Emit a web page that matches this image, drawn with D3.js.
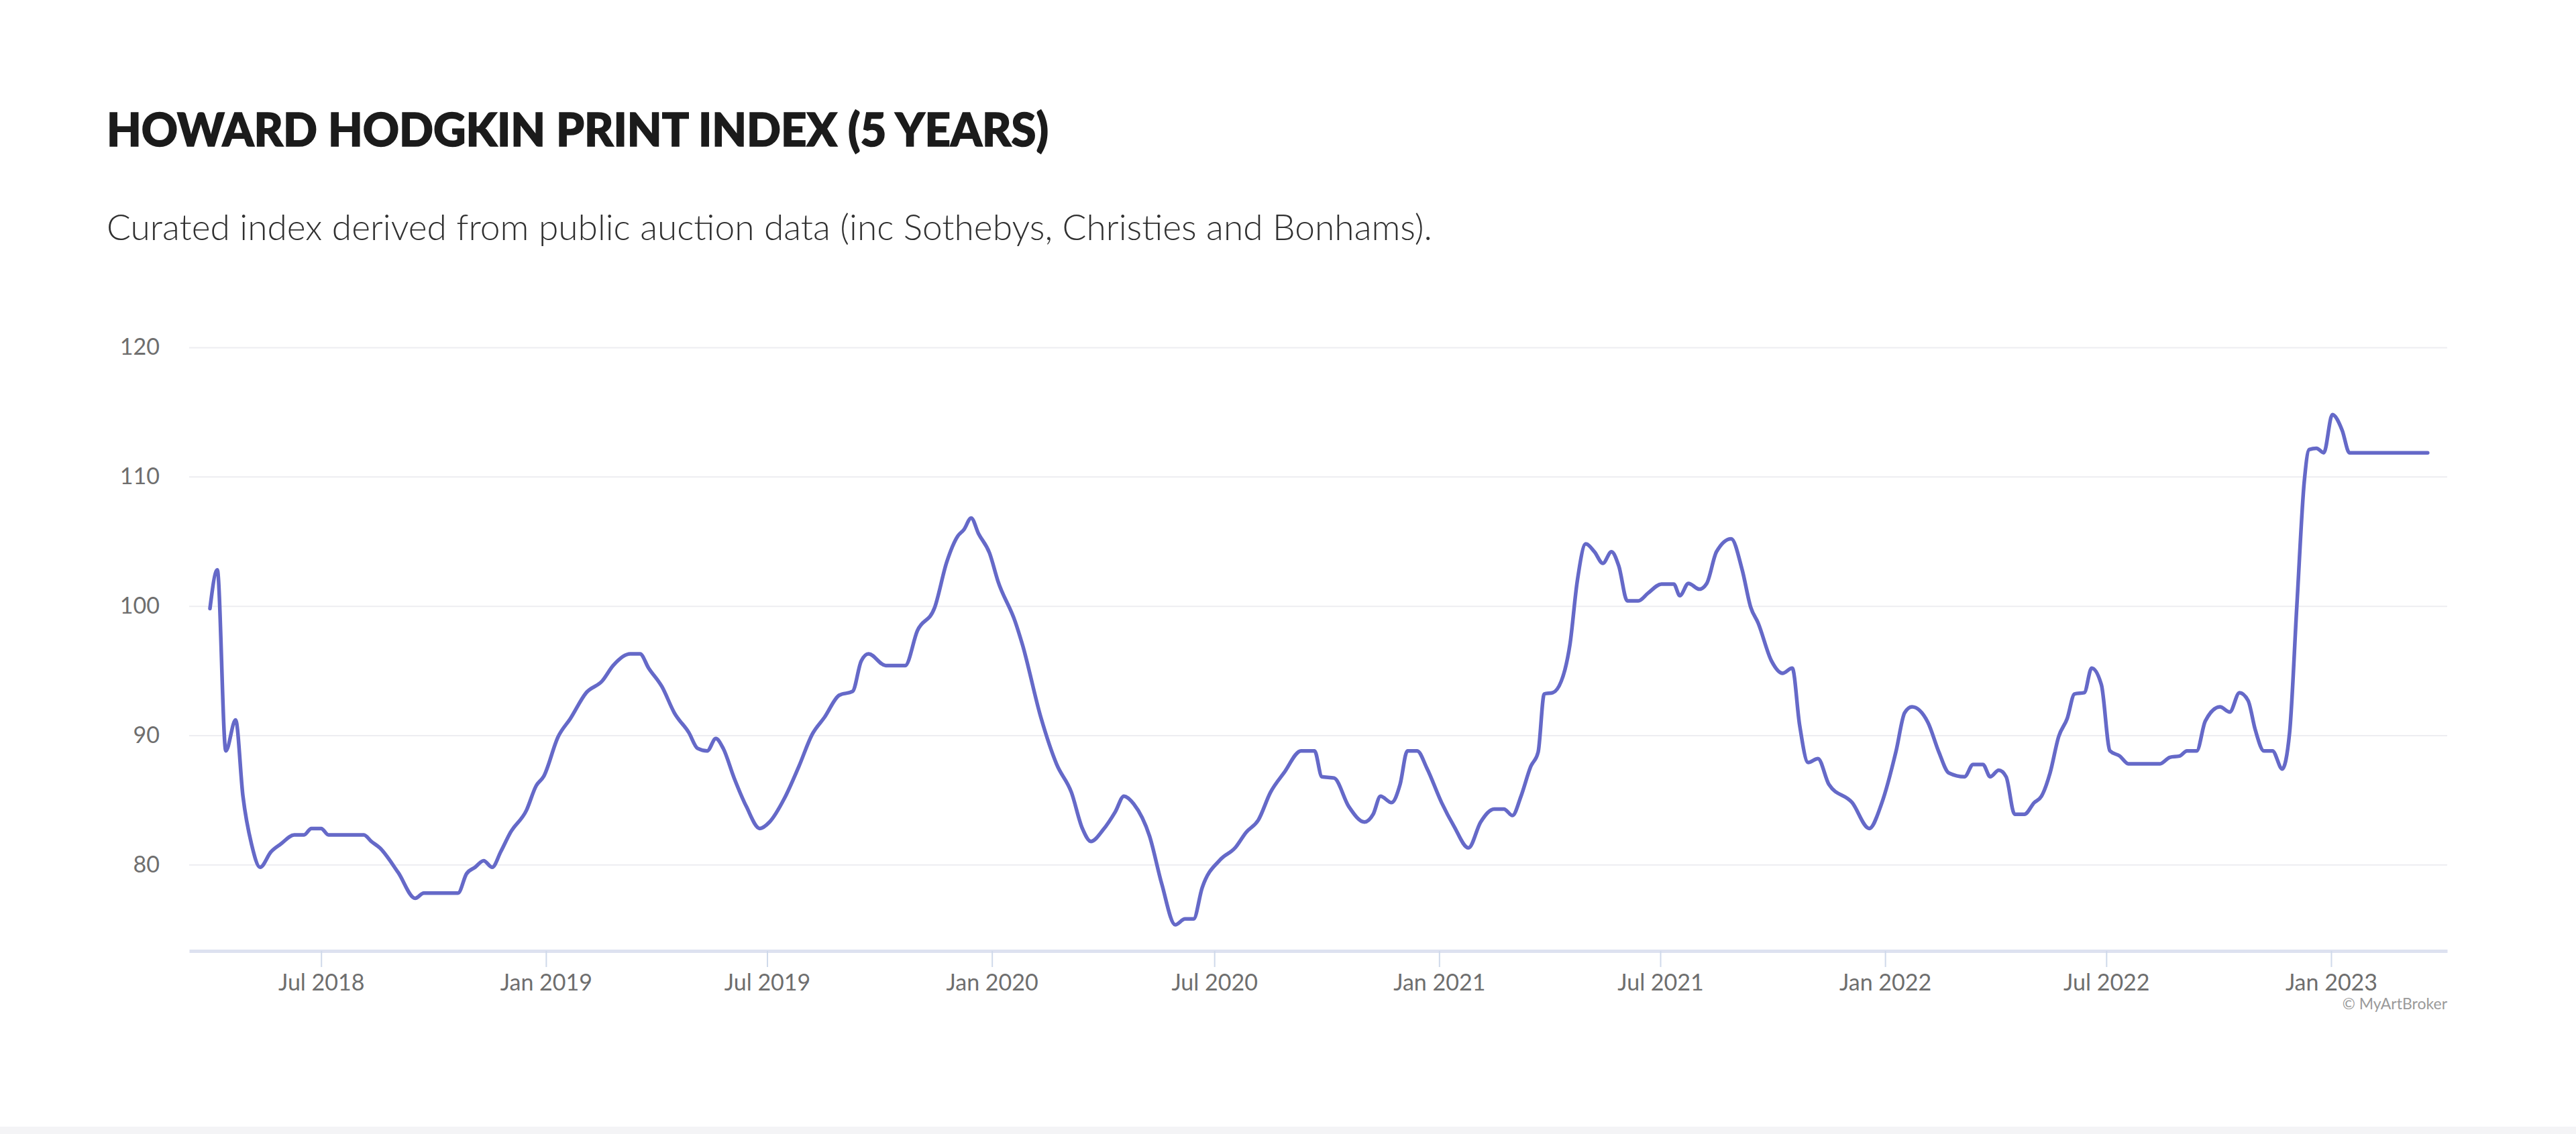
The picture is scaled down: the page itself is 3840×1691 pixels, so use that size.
<!DOCTYPE html>
<html>
<head>
<meta charset="utf-8">
<script src="https://cdn.jsdelivr.net/npm/d3@7"></script>
<style>
  html, body { margin: 0; padding: 0; background: #ffffff; }
  svg { display: block; }
</style>
</head>
<body>
<svg id="chart" width="3840" height="1691"></svg>
<script>
// ---- DATA ----
const titleText = "HOWARD HODGKIN PRINT INDEX (5 YEARS)";
const subtitleText = "Curated index derived from public auction data (inc Sothebys, Christies and Bonhams).";
const creditText = "© MyArtBroker";

const yTicks = [80, 90, 100, 110, 120];
const xTickDates = ["2018-07-01", "2019-01-01", "2019-07-01", "2020-01-01", "2020-07-01",
                    "2021-01-01", "2021-07-01", "2022-01-01", "2022-07-01", "2023-01-01"];

const dates = [
  "2018-04-01","2018-04-07","2018-04-14","2018-04-22","2018-04-28","2018-05-05","2018-05-12","2018-05-21",
  "2018-05-29","2018-06-09","2018-06-17","2018-06-23","2018-07-01","2018-07-07","2018-08-05","2018-08-11",
  "2018-08-18","2018-09-02","2018-09-16","2018-09-23","2018-10-21","2018-10-28","2018-11-04","2018-11-11",
  "2018-11-18","2018-11-25","2018-12-03","2018-12-16","2018-12-24","2018-12-30","2019-01-11","2019-01-21",
  "2019-02-03","2019-02-16","2019-02-25","2019-03-11","2019-03-19","2019-03-26","2019-04-06","2019-04-16",
  "2019-04-28","2019-05-05","2019-05-13","2019-05-20","2019-05-26","2019-06-04","2019-06-14","2019-06-25",
  "2019-07-03","2019-07-15","2019-07-27","2019-08-07","2019-08-17","2019-08-29","2019-09-09","2019-09-16",
  "2019-09-22","2019-10-06","2019-10-22","2019-11-01","2019-11-15","2019-11-25","2019-12-04","2019-12-09",
  "2019-12-15","2019-12-21","2019-12-30","2020-01-06","2020-01-20","2020-01-26","2020-02-10","2020-02-23",
  "2020-03-06","2020-03-15","2020-03-22","2020-04-01","2020-04-11","2020-04-18","2020-04-26","2020-05-09",
  "2020-05-19","2020-05-30","2020-06-07","2020-06-14","2020-06-21","2020-07-06","2020-07-18","2020-07-27",
  "2020-08-06","2020-08-16","2020-08-27","2020-09-10","2020-09-21","2020-09-27","2020-10-07","2020-10-19",
  "2020-11-01","2020-11-08","2020-11-14","2020-11-23","2020-11-30","2020-12-06","2020-12-14","2020-12-22",
  "2021-01-03","2021-01-13","2021-01-25","2021-02-04","2021-02-15","2021-02-23","2021-03-02","2021-03-09",
  "2021-03-17","2021-03-23","2021-03-28","2021-04-04","2021-04-14","2021-04-18","2021-04-24","2021-05-01",
  "2021-05-08","2021-05-15","2021-05-22","2021-05-28","2021-06-04","2021-06-13","2021-06-21","2021-07-02",
  "2021-07-12","2021-07-17","2021-07-24","2021-08-02","2021-08-08","2021-08-16","2021-08-28","2021-09-06",
  "2021-09-13","2021-09-19","2021-09-30","2021-10-09","2021-10-17","2021-10-23","2021-10-30","2021-11-07",
  "2021-11-16","2021-12-05","2021-12-19","2021-12-29","2022-01-10","2022-01-17","2022-01-23","2022-02-05",
  "2022-02-14","2022-02-22","2022-03-07","2022-03-14","2022-03-22","2022-03-28","2022-04-04","2022-04-10",
  "2022-04-17","2022-04-25","2022-05-03","2022-05-09","2022-05-16","2022-05-23","2022-05-30","2022-06-05",
  "2022-06-13","2022-06-19","2022-06-27","2022-07-04","2022-07-12","2022-07-19","2022-08-14","2022-08-22",
  "2022-08-30","2022-09-05","2022-09-13","2022-09-20","2022-10-02","2022-10-10","2022-10-18","2022-10-25",
  "2022-10-31","2022-11-07","2022-11-14","2022-11-22","2022-11-28","2022-12-04","2022-12-10","2022-12-14",
  "2022-12-20","2022-12-26","2023-01-02","2023-01-10","2023-01-16","2023-03-21"
];

const values = [
  99.8,102.8,88.8,91.2,85.3,81.6,79.8,81.0,
  81.6,82.3,82.3,82.8,82.8,82.3,82.3,81.8,
  81.3,79.4,77.4,77.8,77.8,79.3,79.8,80.3,
  79.8,81.0,82.5,84.2,86.1,86.8,89.9,91.3,
  93.3,94.2,95.4,96.3,96.3,95.2,93.75,91.75,
  90.2,89.0,88.8,89.75,89.0,86.7,84.5,82.8,
  83.3,85.1,87.6,90.1,91.4,93.1,93.4,95.75,
  96.3,95.4,95.4,98.1,99.85,103.4,105.4,105.9,
  106.8,105.6,104.1,101.9,98.8,97.0,91.4,87.75,
  85.6,82.8,81.8,82.7,84.1,85.3,84.7,82.2,
  78.5,75.35,75.8,75.8,78.2,80.4,81.3,82.5,
  83.45,85.6,87.1,88.8,88.8,86.8,86.7,84.5,
  83.3,83.9,85.3,84.8,86.2,88.8,88.8,87.45,
  84.8,83.0,81.3,83.3,84.3,84.3,83.8,85.3,
  87.6,88.7,93.2,93.3,95.1,97.0,101.9,104.8,
  104.2,103.3,104.2,103.1,100.4,100.4,101.0,101.7,
  101.7,100.8,101.75,101.3,101.75,104.2,105.2,102.8,
  99.9,98.7,95.75,94.8,95.2,90.8,87.9,88.2,
  86.2,84.8,82.8,84.7,88.8,91.75,92.2,91.0,
  88.7,87.1,86.8,87.75,87.75,86.8,87.3,86.8,
  83.9,83.9,84.8,85.3,87.1,89.9,91.3,93.2,
  93.3,95.2,93.9,88.8,88.4,87.8,87.8,88.3,
  88.4,88.8,88.8,91.1,92.2,91.8,93.3,92.7,
  90.4,88.8,88.8,87.4,90.2,100.1,109.6,112.1,
  112.2,111.85,114.8,113.6,111.85,111.85
];

const xDomainDates = ["2018-03-15", "2023-04-06"];
const yDomain = [73.33, 120];

// ---- CHART ----
const parse = d3.timeParse("%Y-%m-%d");
const data = dates.map((d, i) => ({ date: parse(d), value: values[i] }));

const svg = d3.select("#chart");
const FONT = "Lato, 'Open Sans', 'DejaVu Sans', sans-serif";

svg.append("rect").attr("x", 0).attr("y", 0).attr("width", 3840).attr("height", 1691).attr("fill", "#ffffff");
svg.append("rect").attr("x", 0).attr("y", 1680).attr("width", 3840).attr("height", 11).attr("fill", "#f4f4f6");

const plotLeft = 282, plotRight = 3648, plotTop = 518, plotBottom = 1418;

const x = d3.scaleTime().domain(xDomainDates.map(parse)).range([plotLeft, plotRight]);
const y = d3.scaleLinear().domain(yDomain).range([plotBottom, plotTop]);

// Title
svg.append("text")
  .attr("x", 159).attr("y", 218)
  .attr("font-family", FONT).attr("font-weight", 900).attr("font-size", 69)
  .attr("fill", "#1b1b1b").attr("stroke", "#1b1b1b").attr("stroke-width", 1.6)
  .attr("textLength", 1404).attr("lengthAdjust", "spacingAndGlyphs")
  .text(titleText);

// Subtitle
svg.append("text")
  .attr("x", 159).attr("y", 358)
  .attr("font-family", FONT).attr("font-weight", 300).attr("font-size", 54)
  .attr("fill", "#303030")
  .attr("textLength", 1976).attr("lengthAdjust", "spacingAndGlyphs")
  .text(subtitleText);

// Y gridlines + labels
const yAxis = d3.axisLeft(y).tickValues(yTicks).tickSize(-(plotRight - plotLeft)).tickPadding(44);
const gy = svg.append("g").attr("transform", `translate(${plotLeft},0)`).call(yAxis);
gy.select(".domain").remove();
gy.selectAll(".tick line").attr("stroke", "#ededf1").attr("stroke-width", 2);
gy.selectAll(".tick text")
  .attr("font-family", FONT).attr("font-size", 34).attr("fill", "#6e6e6e").attr("x", -44);

// X axis
const xAxis = d3.axisBottom(x).tickValues(xTickDates.map(parse))
  .tickFormat(d3.timeFormat("%b %Y")).tickSize(24).tickPadding(10).tickSizeOuter(0);
const gx = svg.append("g").attr("transform", `translate(0,${plotBottom})`).call(xAxis);
gx.select(".domain").attr("stroke", "#dde1f0").attr("stroke-width", 5);
gx.selectAll(".tick line").attr("stroke", "#cfd9ea").attr("stroke-width", 2);
gx.selectAll(".tick text")
  .attr("font-family", FONT).attr("font-size", 34).attr("fill", "#6e6e6e")
  .attr("dy", 0).attr("y", 59);

// Line
const line = d3.line().x(d => x(d.date)).y(d => y(d.value)).curve(d3.curveMonotoneX);
svg.append("path").datum(data)
  .attr("d", line)
  .attr("fill", "none")
  .attr("stroke", "#6569c8")
  .attr("stroke-width", 5.5)
  .attr("stroke-linejoin", "round")
  .attr("stroke-linecap", "round");

// Credit
svg.append("text")
  .attr("x", plotRight).attr("y", 1505)
  .attr("text-anchor", "end")
  .attr("font-family", FONT).attr("font-size", 23).attr("fill", "#9a9a9a")
  .text(creditText);
</script>
</body>
</html>
